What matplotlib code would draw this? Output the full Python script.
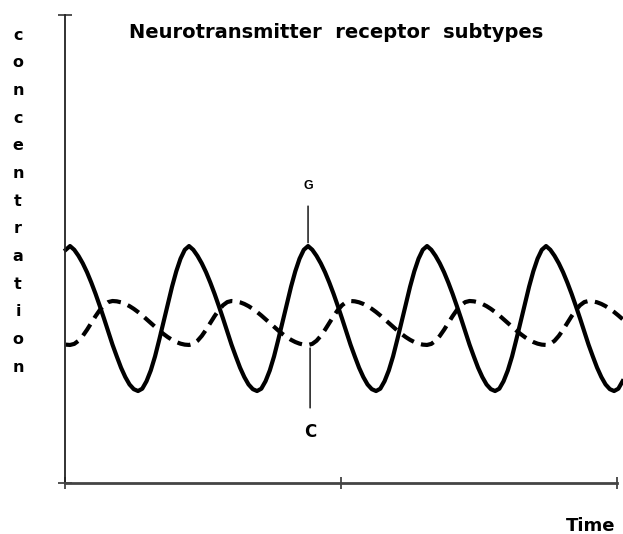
import numpy as np
import matplotlib.pyplot as plt

# both curves at a regular time step (0.77 units of a 0-100 time axis)
t_start = 0.14
t_step = 0.77

# G receptor (solid line), concentration on a 0-100 scale
g_conc = [49.8,
          50.6, 49.8, 48.5, 46.9, 45.0, 42.8, 40.4, 37.8, 35.1, 32.3, 29.5, 27.0, 24.6, 22.6,
          21.0, 20.0, 19.6, 20.1, 21.7, 24.0, 27.0, 30.6, 34.4, 38.2, 41.9, 45.2, 47.9, 49.8,
          50.6, 49.8, 48.5, 46.9, 45.0, 42.8, 40.4, 37.8, 35.1, 32.3, 29.5, 27.0, 24.6, 22.6,
          21.0, 20.0, 19.6, 20.1, 21.7, 24.0, 27.0, 30.6, 34.4, 38.2, 41.9, 45.2, 47.9, 49.8,
          50.6, 49.8, 48.5, 46.9, 45.0, 42.8, 40.4, 37.8, 35.1, 32.3, 29.5, 27.0, 24.6, 22.6,
          21.0, 20.0, 19.6, 20.1, 21.7, 24.0, 27.0, 30.6, 34.4, 38.2, 41.9, 45.2, 47.9, 49.8,
          50.6, 49.8, 48.5, 46.9, 45.0, 42.8, 40.4, 37.8, 35.1, 32.3, 29.5, 27.0, 24.6, 22.6,
          21.0, 20.0, 19.6, 20.1, 21.7, 24.0, 27.0, 30.6, 34.4, 38.2, 41.9, 45.2, 47.9, 49.8,
          50.6, 49.8, 48.5, 46.9, 45.0, 42.8, 40.4, 37.8, 35.1, 32.3, 29.5, 27.0, 24.6, 22.6,
          21.0, 20.0, 19.6, 20.1, 21.7]

# C receptor (dashed line)
c_conc = [29.52,
          29.45, 29.68, 30.35, 31.39, 32.70, 34.15, 35.60, 36.91, 37.95, 38.62, 38.85, 38.78, 38.57, 38.22,
          37.75, 37.17, 36.50, 35.76, 34.97, 34.15, 33.33, 32.54, 31.80, 31.13, 30.55, 30.08, 29.73, 29.52,
          29.45, 29.68, 30.35, 31.39, 32.70, 34.15, 35.60, 36.91, 37.95, 38.62, 38.85, 38.78, 38.57, 38.22,
          37.75, 37.17, 36.50, 35.76, 34.97, 34.15, 33.33, 32.54, 31.80, 31.13, 30.55, 30.08, 29.73, 29.52,
          29.45, 29.68, 30.35, 31.39, 32.70, 34.15, 35.60, 36.91, 37.95, 38.62, 38.85, 38.78, 38.57, 38.22,
          37.75, 37.17, 36.50, 35.76, 34.97, 34.15, 33.33, 32.54, 31.80, 31.13, 30.55, 30.08, 29.73, 29.52,
          29.45, 29.68, 30.35, 31.39, 32.70, 34.15, 35.60, 36.91, 37.95, 38.62, 38.85, 38.78, 38.57, 38.22,
          37.75, 37.17, 36.50, 35.76, 34.97, 34.15, 33.33, 32.54, 31.80, 31.13, 30.55, 30.08, 29.73, 29.52,
          29.45, 29.68, 30.35, 31.39, 32.70, 34.15, 35.60, 36.91, 37.95, 38.62, 38.85, 38.78, 38.57, 38.22,
          37.75, 37.17, 36.50, 35.76, 34.97]

ylabel_text = "concentration"
title_text = "Neurotransmitter  receptor  subtypes"

timeline = t_start + np.arange(len(g_conc)) * t_step

fig = plt.figure(figsize=(6.23, 5.34), dpi=100)
ax = fig.add_axes([65/623, 1 - 482.7/534, 552/623, 467.7/534])

ax.plot(timeline, g_conc, color="black", lw=3.0, solid_joinstyle="round", clip_on=False)
ax.plot(timeline, c_conc, color="black", lw=3.0, linestyle=(0, (3.2, 1.8)), clip_on=False)

ax.set_xlim(0, 100)
ax.set_ylim(0, 100)
for s in ["top", "right"]:
    ax.spines[s].set_visible(False)
ax.spines["left"].set_color("#222222")
ax.spines["left"].set_linewidth(1.3)
ax.spines["bottom"].set_color("#444444")
ax.spines["bottom"].set_linewidth(2.0)
ax.set_xticks([0, 50, 100])
ax.set_yticks([0, 100])
ax.tick_params(axis="x", direction="inout", length=8, width=1.2, color="#333333", labelbottom=False)
ax.tick_params(axis="y", direction="inout", length=10, width=1.2, color="#333333", labelleft=False)

# peak / trough markers
ax.annotate("G", xy=(44.03, 51.3), xytext=(44.03, 63.4), ha="center", va="center",
            fontsize=9, fontweight="bold", family="Liberation Sans",
            arrowprops=dict(arrowstyle="-", color="black", lw=1, shrinkA=8, shrinkB=0))
ax.annotate("C", xy=(44.4, 28.8), xytext=(44.4, 10.8), ha="center", va="center",
            fontsize=12, fontweight="bold", family="DejaVu Sans",
            arrowprops=dict(arrowstyle="-", color="black", lw=1, shrinkA=9, shrinkB=0))

fig.text(336.5/623, 1 - 32.5/534, title_text, ha="center", va="center",
         fontsize=14, fontweight="bold", family="DejaVu Sans")

for i, ch in enumerate(ylabel_text):
    fig.text(18/623, 1 - (35 + i * 27.7)/534, ch, ha="center", va="center",
             fontsize=11.5, fontweight="bold", family="DejaVu Sans")

fig.text(591/623, 1 - 526/534, "Time", ha="center", va="center",
         fontsize=13, fontweight="bold", family="DejaVu Sans")

fig.savefig("out.png", dpi=100)
